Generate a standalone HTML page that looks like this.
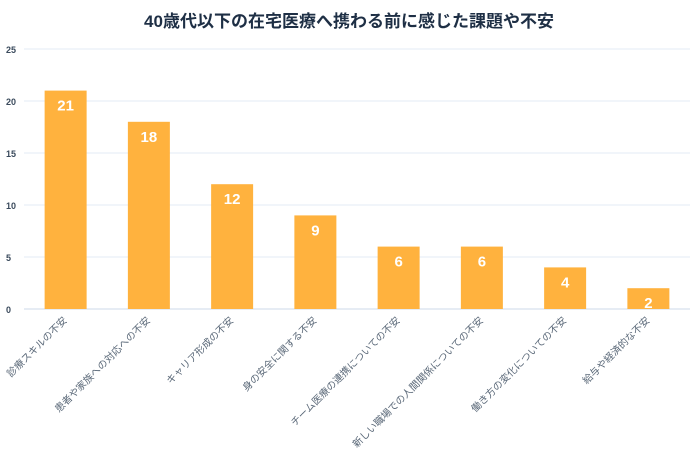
<!DOCTYPE html>
<html><head><meta charset="utf-8"><style>
html,body{margin:0;padding:0;background:#fff;width:697px;height:460px;overflow:hidden}
svg{display:block;font-family:"Liberation Sans","Noto Sans CJK JP",sans-serif}
</style></head><body>
<svg id="chart" width="697" height="460">
<text x="349" y="27" text-anchor="middle" font-size="17" font-weight="bold" fill="#1e2f45">40歳代以下の在宅医療へ携わる前に感じた課題や不安</text>
<g id="grid"></g><g id="bars"></g><g id="xl"></g>
</svg>
<script>
const categories=["診療スキルの不安","患者や家族への対応への不安","キャリア形成の不安","身の安全に関する不安","チーム医療の連携についての不安","新しい職場での人間関係についての不安","働き方の変化についての不安","給与や経済的な不安"];
const values=[21,18,12,9,6,6,4,2];
const ticks=[0,5,10,15,20,25];
const ns="http://www.w3.org/2000/svg";
const x0=24,x1=690,yb=309,yt=49,ymax=25;
const y=v=>yb-(yb-yt)*v/ymax;
const step=(x1-x0)/categories.length;
const cx=i=>x0+step*(i+0.5);
function mk(t,a,p){const e=document.createElementNS(ns,t);for(const k in a)e.setAttribute(k,a[k]);p.appendChild(e);return e;}
const g=document.getElementById('grid'),b=document.getElementById('bars'),xl=document.getElementById('xl');
ticks.forEach(t=>{
 const l=mk('line',{x1:x0,x2:x1,y1:y(t),y2:y(t),stroke:t===0?'#dde6f0':'#e3ebf4','stroke-width':t===0?1.5:1},g);
 
 
 const tx=mk('text',{x:6,y:y(t)+4,'font-size':9,'font-weight':'bold',fill:'#3a4a5c'},g);
 tx.textContent=t;
 
 
});
values.forEach((v,i)=>{
 const w=42;
 const r=mk('rect',{x:cx(i)-w/2,y:y(v),width:w,height:yb-y(v),fill:'#ffb23e'},b);
 
 
 const t=mk('text',{x:cx(i),y:y(v)+20,'text-anchor':'middle','font-size':15,'font-weight':'bold',fill:'#fff'},b);
 t.textContent=v;
 
 
 const lx=cx(i)+2,ly=321;
 const c=mk('text',{x:lx,y:ly,'text-anchor':'end','font-size':10,fill:'#5a6878',transform:`rotate(-45 ${lx} ${ly})`},xl);
 c.textContent=categories[i];
 
 
});
</script>
</body></html>
